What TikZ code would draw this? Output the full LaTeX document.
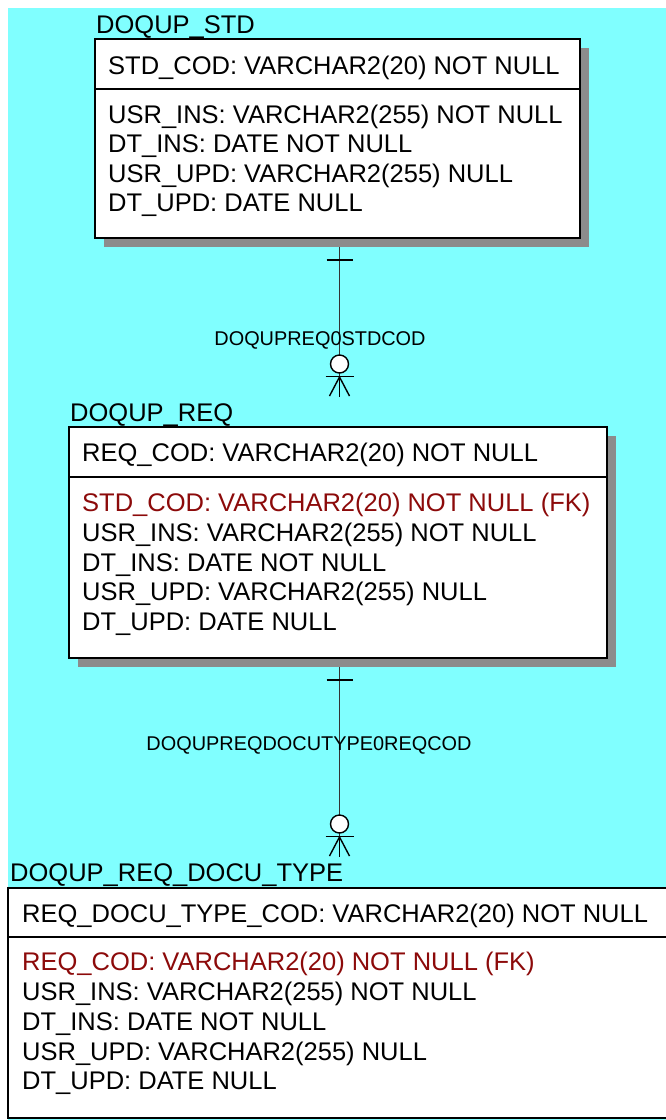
\documentclass[tikz,border=0pt]{standalone}
\usepackage{fontspec}
\setmainfont{Liberation Sans}
\usetikzlibrary{shadows}
\definecolor{bgcyan}{RGB}{128,255,255}
\definecolor{fkred}{RGB}{140,10,10}
\definecolor{shadowgray}{RGB}{140,140,140}
\begin{document}
\begin{tikzpicture}[x=1pt,y=-1pt,
  tablebox/.style={draw=black, line width=1.6pt, fill=white, inner sep=0pt,
    drop shadow={shadow xshift=9pt, shadow yshift=-9pt, fill=shadowgray, opacity=1}},
  sepline/.style={draw=black, line width=1.3pt},
  rowtxt/.style={anchor=west, inner sep=0pt, font=\fontsize{25.5}{28}\selectfont, text height=18.2pt, text depth=0pt},
  fktxt/.style={rowtxt, text=fkred},
  titletxt/.style={rowtxt},
  reltxt/.style={inner sep=0pt, font=\fontsize{19.9}{22}\selectfont, text height=14.2pt, text depth=0pt},
  relline/.style={draw=black!80, line width=0.8pt},
  relmark/.style={draw=black, line width=1.4pt},
  onebar/.pic={\draw[relmark] (-13,0) -- (13,0);},
  zeromany/.pic={
    \draw[relmark, fill=white] (0,0) circle[radius=9];
    \draw[relmark] (-14,12.5) -- (14,12.5);
    \draw[relmark] (-10,32) -- (0,13) -- (10,32);
    \draw[relmark] (0,13) -- (0,33);}
]
\useasboundingbox (0,0) rectangle (666,1120);
\clip (0,0) rectangle (666,1120);
\fill[bgcyan] (8,8) rectangle (666,1120);

% ---- Table 1: DOQUP_STD ----
\node[titletxt] (t1title) at (96,24) {DOQUP\_STD};
\node[tablebox, minimum width=485pt, minimum height=199pt] (t1) at (337.5,138.5) {};
\coordinate (s1) at (0,89);
\draw[sepline] (t1.west |- s1) -- (t1.east |- s1);
\node[rowtxt] (t1pk) at (108,65) {STD\_COD: VARCHAR2(20) NOT NULL};
\node[rowtxt] (t1a1) at (108,114) {USR\_INS: VARCHAR2(255) NOT NULL};
\node[rowtxt] (t1a2) at (108,143.5) {DT\_INS: DATE NOT NULL};
\node[rowtxt] (t1a3) at (108,173) {USR\_UPD: VARCHAR2(255) NULL};
\node[rowtxt] (t1a4) at (108,202.5) {DT\_UPD: DATE NULL};

% ---- Table 2: DOQUP_REQ ----
\node[titletxt] (t2title) at (70,412) {DOQUP\_REQ};
\node[tablebox, minimum width=538pt, minimum height=231pt] (t2) at (338,542.5) {};
\coordinate (s2) at (0,477);
\draw[sepline] (t2.west |- s2) -- (t2.east |- s2);
\node[rowtxt] (t2pk) at (82,452) {REQ\_COD: VARCHAR2(20) NOT NULL};
\node[fktxt] (t2fk) at (82,502) {STD\_COD: VARCHAR2(20) NOT NULL (FK)};
\node[rowtxt] (t2a1) at (82,532) {USR\_INS: VARCHAR2(255) NOT NULL};
\node[rowtxt] (t2a2) at (82,562) {DT\_INS: DATE NOT NULL};
\node[rowtxt] (t2a3) at (82,591.5) {USR\_UPD: VARCHAR2(255) NULL};
\node[rowtxt] (t2a4) at (82,621) {DT\_UPD: DATE NULL};

% ---- Table 3: DOQUP_REQ_DOCU_TYPE ----
\node[titletxt] (t3title) at (10,872) {DOQUP\_REQ\_DOCU\_TYPE};
\node[draw=black, line width=1.6pt, fill=white, inner sep=0pt, minimum width=700pt, minimum height=230pt] (t3) at (358,1003) {};
\coordinate (s3) at (0,937);
\draw[sepline] (t3.west |- s3) -- (t3.east |- s3);
\node[rowtxt] (t3pk) at (22,913) {REQ\_DOCU\_TYPE\_COD: VARCHAR2(20) NOT NULL};
\node[fktxt] (t3fk) at (22,961) {REQ\_COD: VARCHAR2(20) NOT NULL (FK)};
\node[rowtxt] (t3a1) at (22,991) {USR\_INS: VARCHAR2(255) NOT NULL};
\node[rowtxt] (t3a2) at (22,1021) {DT\_INS: DATE NOT NULL};
\node[rowtxt] (t3a3) at (22,1051) {USR\_UPD: VARCHAR2(255) NULL};
\node[rowtxt] (t3a4) at (22,1080) {DT\_UPD: DATE NULL};

% ---- Relationship 1: DOQUPREQ0STDCOD ----
\coordinate (r1a) at (339.5,247);
\coordinate (r1b) at (339.5,397);
\draw[relline] (r1a) -- (r1b);
\pic at (339.5,260) {onebar};
\pic at (339.5,364) {zeromany};
\node[reltxt] (lab1) at (320,338) {DOQUPREQ0STDCOD};

% ---- Relationship 2: DOQUPREQDOCUTYPE0REQCOD ----
\coordinate (r2a) at (339.5,667);
\coordinate (r2b) at (339.5,856);
\draw[relline] (r2a) -- (r2b);
\pic at (339.5,680) {onebar};
\pic at (339.5,824) {zeromany};
\node[reltxt] (lab2) at (309,743) {DOQUPREQDOCUTYPE0REQCOD};
\end{tikzpicture}
\end{document}
